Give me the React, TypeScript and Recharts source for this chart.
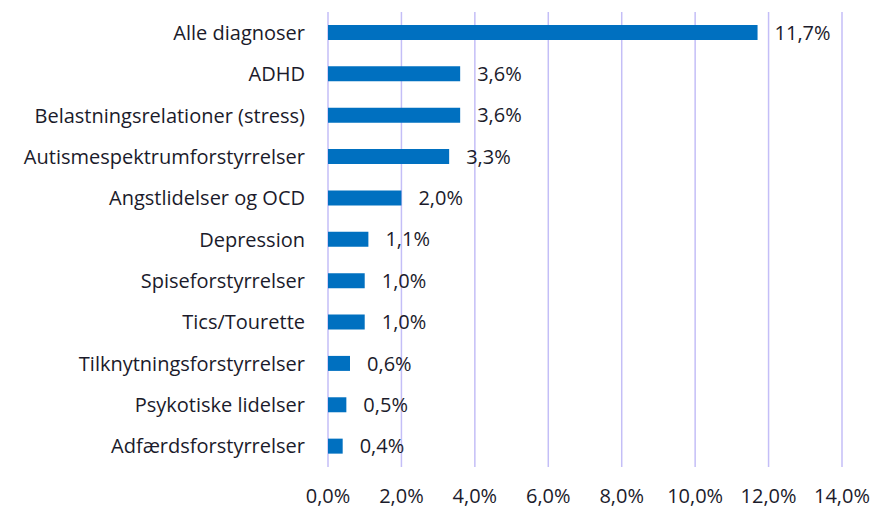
import { BarChart, Bar, XAxis, YAxis, CartesianGrid, LabelList } from "recharts";

const categories = [
    "Alle diagnoser",
    "ADHD",
    "Belastningsrelationer (stress)",
    "Autismespektrumforstyrrelser",
    "Angstlidelser og OCD",
    "Depression",
    "Spiseforstyrrelser",
    "Tics/Tourette",
    "Tilknytningsforstyrrelser",
    "Psykotiske lidelser",
    "Adfærdsforstyrrelser",
];

const shares = [11.7, 3.6, 3.6, 3.3, 2.0, 1.1, 1.0, 1.0, 0.6, 0.5, 0.4];

const xTicks = [0, 2, 4, 6, 8, 10, 12, 14];

const data = categories.map((name, i) => ({ name, value: shares[i] }));

const pct = (v: number) => v.toFixed(1).replace(".", ",") + "%";

const font = "Open Sans, sans-serif";
const ink = "#1b1b2b";

export default function App() {
    return (
        <div style={{ position: "absolute", left: 0, top: 0, width: 872, height: 508, background: "#fff", fontFamily: font }}>
            <BarChart
                width={872}
                height={508}
                data={data}
                layout="vertical"
                margin={{ top: 12, right: 30, left: 0, bottom: 1 }}
                barSize={15}
            >
                <CartesianGrid horizontal={false} stroke="#C4BEF7" strokeWidth={1.5} />
                <XAxis
                    type="number"
                    domain={[0, 14]}
                    ticks={xTicks}
                    tickFormatter={pct}
                    axisLine={false}
                    tickLine={false}
                    tickMargin={16}
                    height={40}
                    interval={0}
                    tick={{ fill: ink, fontSize: 20, fontFamily: font }}
                />
                <YAxis
                    type="category"
                    dataKey="name"
                    width={328}
                    axisLine={false}
                    tickLine={false}
                    tickMargin={17}
                    interval={0}
                    tick={{ fill: ink, fontSize: 20, fontFamily: font }}
                />
                <Bar dataKey="value" fill="#0070C0" isAnimationActive={false}>
                    <LabelList
                        dataKey="value"
                        position="right"
                        offset={17}
                        formatter={(v: any) => pct(Number(v))}
                        style={{ fill: ink, fontSize: 20, fontFamily: font }}
                    />
                </Bar>
            </BarChart>
        </div>
    );
}
